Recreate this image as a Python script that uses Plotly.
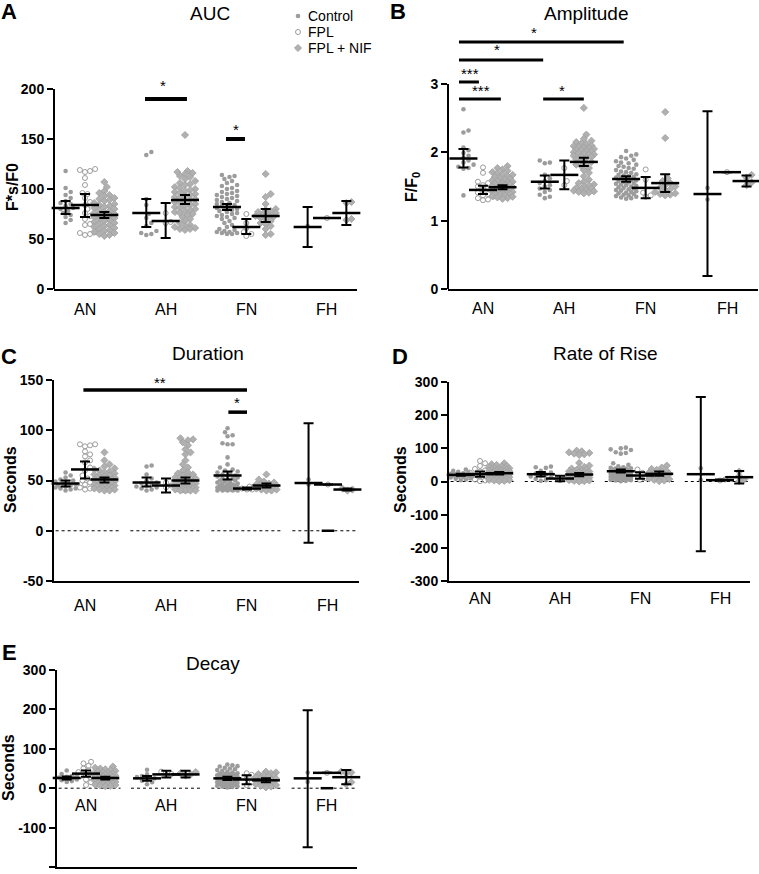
import plotly.graph_objects as go

W, H = 759, 874
GROUPS = ["AN", "AH", "FN", "FH"]
SERIES = ["Control", "FPL", "FPL + NIF"]

# ---------------- A: AUC ----------------
auc_ctrl = [
    [118, 101, 97, 94, 91, 88, 86, 85, 83, 81, 80, 78, 76, 74, 72, 69, 66],
    [137, 134, 90, 84, 75, 71, 66, 63, 58, 56, 55, 54],
    [114, 113, 112, 110, 108, 106, 104, 103, 101, 100, 98, 97, 96, 95, 94, 93, 92, 91, 90, 89,
     88, 87, 86, 85, 84, 84, 83, 82, 81, 80, 80, 79, 78, 77, 76, 75, 74, 73, 72, 71, 70, 68,
     66, 64, 62, 60, 59, 58, 57, 57, 56, 56, 55, 55],
    [63],
]
auc_fpl = [
    [120, 119, 118, 117, 111, 104, 96, 95, 91, 87, 84, 80, 76, 73, 70, 65, 64, 57, 56, 55, 54],
    [76, 67, 66],
    [75, 66, 61, 57, 55, 53],
    [71],
]
auc_nif = [
    [107, 102, 98, 96, 94, 93, 91, 90, 89, 88, 86, 85, 84, 83, 82, 81, 80, 79, 78, 77, 76, 75,
     75, 74, 73, 72, 71, 70, 69, 68, 67, 66, 65, 64, 63, 62, 61, 60, 59, 58, 57, 56, 55, 54, 53],
    [154, 118, 117, 116, 115, 113, 112, 110, 108, 106, 105, 104, 102, 101, 100, 99, 98, 97, 96,
     95, 94, 93, 92, 91, 90, 89, 88, 87, 86, 85, 84, 83, 82, 81, 80, 79, 78, 77, 76, 75, 74, 72,
     70, 68, 66, 64, 63, 62, 61, 60, 60, 59],
    [115, 95, 92, 85, 80, 79, 78, 77, 76, 75, 74, 73, 72, 71, 70, 68, 66, 65, 63, 60, 55, 54],
    [87, 86, 70, 69],
]
auc_mean = [[81, 76, 82, 62], [84, 68, 62, 71], [74, 89, 73, 76]]
auc_lo = [[75, 62, 79, 42], [72, 51, 55, 71], [71, 85, 67, 64]]
auc_hi = [[88, 90, 85, 82], [95, 86, 70, 71], [77, 94, 80, 88]]

# ---------------- B: Amplitude ----------------
amp_ctrl = [
    [2.63, 2.32, 2.29, 2.07, 2.03, 1.99, 1.95, 1.92, 1.88, 1.85, 1.82, 1.79, 1.77, 1.76, 1.37],
    [1.88, 1.85, 1.84, 1.67, 1.62, 1.58, 1.55, 1.52, 1.5, 1.47, 1.45, 1.42, 1.38, 1.35, 1.33],
    [2.02, 1.97, 1.95, 1.93, 1.91, 1.89, 1.87, 1.85, 1.84, 1.82, 1.8, 1.79, 1.77, 1.76, 1.74,
     1.72, 1.71, 1.7, 1.68, 1.67, 1.66, 1.65, 1.64, 1.63, 1.62, 1.61, 1.6, 1.59, 1.58, 1.57,
     1.56, 1.55, 1.54, 1.53, 1.52, 1.51, 1.5, 1.49, 1.48, 1.47, 1.46, 1.45, 1.44, 1.43, 1.42,
     1.41, 1.4, 1.39, 1.38, 1.37, 1.36, 1.35, 1.34, 1.33, 1.32],
    [1.48, 1.31],
]
amp_fpl = [
    [1.78, 1.7, 1.57, 1.55, 1.52, 1.5, 1.48, 1.45, 1.43, 1.41, 1.39, 1.37, 1.35, 1.33, 1.31, 1.3],
    [1.77, 1.58, 1.52],
    [1.75, 1.6, 1.41, 1.37, 1.35],
    [1.71],
]
amp_nif = [
    [1.8, 1.77, 1.75, 1.73, 1.71, 1.7, 1.68, 1.67, 1.65, 1.64, 1.62, 1.61, 1.6, 1.59, 1.58,
     1.57, 1.56, 1.55, 1.54, 1.53, 1.52, 1.51, 1.5, 1.49, 1.48, 1.47, 1.46, 1.45, 1.45, 1.44,
     1.43, 1.42, 1.41, 1.4, 1.4, 1.39, 1.38, 1.37, 1.36, 1.35, 1.34, 1.33, 1.32],
    [2.65, 2.26, 2.2, 2.17, 2.15, 2.13, 2.12, 2.1, 2.09, 2.08, 2.07, 2.06, 2.05, 2.04, 2.03,
     2.02, 2.01, 2.0, 1.99, 1.98, 1.97, 1.96, 1.95, 1.94, 1.93, 1.92, 1.9, 1.88, 1.86, 1.84,
     1.82, 1.8, 1.77, 1.74, 1.7, 1.65, 1.6, 1.57, 1.55, 1.53, 1.52, 1.5, 1.48, 1.47, 1.46,
     1.45, 1.44, 1.43, 1.42, 1.41, 1.4],
    [2.59, 2.21, 1.62, 1.58, 1.55, 1.52, 1.5, 1.48, 1.46, 1.44, 1.42, 1.4, 1.39, 1.38, 1.37],
    [1.67, 1.63, 1.56, 1.52],
]
amp_mean = [[1.91, 1.57, 1.61, 1.39], [1.45, 1.67, 1.48, 1.71], [1.49, 1.86, 1.55, 1.58]]
amp_lo = [[1.78, 1.47, 1.57, 0.19], [1.39, 1.46, 1.33, 1.71], [1.46, 1.80, 1.42, 1.50]]
amp_hi = [[2.05, 1.66, 1.65, 2.60], [1.51, 1.88, 1.64, 1.71], [1.52, 1.92, 1.68, 1.66]]

# ---------------- C: Duration ----------------
dur_ctrl = [
    [58, 55, 53, 51, 50, 49, 48, 47, 46, 45, 45, 44, 43, 42, 42, 41, 40],
    [65, 64, 56, 52, 50, 48, 47, 46, 45, 44, 43, 42, 41, 40],
    [102, 98, 95, 94, 87, 86, 86, 73, 66, 63, 61, 60, 59, 58, 57, 56, 55, 55, 54, 53, 52, 52,
     51, 50, 50, 49, 48, 48, 47, 47, 46, 46, 45, 45, 44, 44, 43, 43, 43, 42, 42, 42, 41, 41,
     41, 40, 40, 40, 40, 40],
    [51, 46],
]
dur_fpl = [
    [86, 86, 85, 84, 79, 76, 74, 70, 68, 63, 60, 55, 52, 50, 48, 46, 45, 43, 42, 41],
    [48, 45, 43],
    [44, 43, 42, 42, 41, 41],
    [46],
]
dur_nif = [
    [78, 70, 66, 64, 62, 61, 60, 59, 58, 57, 56, 55, 55, 54, 53, 53, 52, 52, 51, 51, 50, 50,
     49, 49, 48, 48, 47, 47, 46, 46, 45, 45, 44, 44, 43, 43, 42, 42, 41, 41, 40, 40],
    [92, 91, 90, 88, 85, 81, 78, 76, 70, 66, 63, 60, 58, 57, 56, 55, 54, 53, 52, 51, 50, 50,
     49, 49, 48, 48, 47, 47, 46, 46, 45, 45, 45, 44, 44, 44, 43, 43, 43, 42, 42, 42, 41, 41,
     41, 40, 40, 40, 40],
    [56, 51, 49, 48, 47, 46, 46, 45, 45, 44, 44, 43, 43, 42, 42, 41, 41, 40, 40],
    [42, 41, 40],
]
dur_mean = [[47, 48, 55, 47.5], [61, 45, 42, 46], [51, 50, 45, 41]]
dur_lo = [[44, 44, 51, -12], [52, 38, 41, 46], [48, 47, 43, 40]]
dur_hi = [[50, 53, 59, 107], [69, 52, 43, 46], [53, 53, 47, 42]]
dur_fpl_zero = [None, None, None, 0]

# ---------------- D: Rate of Rise ----------------
ror_ctrl = [
    [36, 32, 29, 27, 25, 23, 22, 21, 20, 19, 18, 17, 15, 14, 12, 10, 8, 6, 4],
    [45, 43, 41, 32, 27, 24, 21, 18, 15, 12, 8, 4, 2],
    [102, 100, 97, 95, 88, 86, 84, 55, 50, 46, 43, 41, 40, 39, 38, 37, 36, 35, 34, 33, 32, 31,
     30, 29, 28, 27, 26, 25, 24, 23, 22, 21, 20, 19, 18, 17, 16, 15, 14, 13, 12, 11, 10, 9, 8,
     7, 6, 5, 4, 3, 2, 1],
    [40, 4],
]
ror_fpl = [
    [62, 55, 47, 38, 33, 30, 27, 24, 21, 18, 15, 12, 9, 6, 3, 1],
    [13, 8, 4],
    [36, 26, 17, 10, 5],
    [6, 3],
]
ror_nif = [
    [55, 52, 50, 47, 45, 43, 41, 40, 38, 37, 36, 35, 34, 33, 32, 31, 30, 29, 28, 27, 26, 25,
     24, 23, 22, 21, 20, 19, 18, 17, 16, 15, 14, 13, 12, 11, 10, 9, 8, 7, 6, 5, 4, 3, 2, 1],
    [93, 91, 88, 86, 84, 82, 80, 56, 48, 44, 41, 39, 37, 35, 33, 31, 30, 29, 28, 27, 26, 25,
     24, 23, 22, 21, 20, 19, 18, 17, 16, 15, 14, 13, 12, 11, 10, 9, 8, 7, 6, 5, 4, 3, 2, 1, 0],
    [48, 42, 38, 35, 32, 29, 27, 25, 23, 21, 19, 17, 15, 13, 11, 9, 7, 5, 3, 1],
    [30, 16, 6, 1],
]
ror_mean = [[20, 22, 31, 22], [22, 9, 18, 4], [25, 21, 23, 13]]
ror_lo = [[17, 15, 27, -210], [14, 1, 8, 2], [21, 16, 17, -6]]
ror_hi = [[23, 29, 36, 255], [30, 17, 28, 6], [29, 26, 30, 32]]

# ---------------- E: Decay ----------------
dec_ctrl = [
    [45, 40, 36, 33, 31, 29, 27, 26, 25, 24, 23, 22, 20, 18, 16],
    [47, 35, 31, 28, 25, 22, 19, 15, 10],
    [60, 58, 56, 55, 52, 50, 48, 46, 44, 42, 40, 38, 37, 36, 35, 34, 33, 32, 31, 30, 29, 28,
     27, 26, 25, 24, 23, 22, 21, 20, 19, 18, 17, 16, 15, 14, 13, 12, 11, 10, 9, 8, 7, 6, 5,
     4, 3, 2],
    [40, 16],
]
dec_fpl = [
    [67, 63, 57, 50, 45, 41, 38, 35, 31, 27, 22, 15, 8],
    [42, 36, 33],
    [38, 34, 25, 15, 8],
    [39],
]
dec_nif = [
    [55, 52, 50, 48, 46, 44, 42, 40, 38, 37, 36, 35, 34, 33, 32, 31, 30, 29, 28, 27, 26, 25,
     24, 23, 22, 21, 20, 19, 18, 17, 16, 15, 14, 13, 12, 11, 10, 9, 8, 7, 6, 5],
    [41, 38, 35, 32],
    [42, 40, 38, 36, 34, 32, 30, 28, 26, 24, 22, 20, 18, 16, 14, 12, 10, 8, 6, 4, 2],
    [42, 40, 38, 15, 10],
]
dec_mean = [[26, 25, 25, 25], [37, 35, 22, 39], [26, 35, 20, 28]]
dec_lo = [[22, 19, 21, -150], [29, 27, 10, 39], [22, 27, 15, 10]]
dec_hi = [[30, 31, 29, 198], [45, 44, 33, 39], [29, 44, 25, 46]]
dec_fpl_zero = [None, None, None, 0]

# significance brackets: (x0, x1, y, label, label_x, label_y)
sig_auc = [(0.744, 1.264, 190, "*", 0.967, 203), (1.748, 1.983, 150, "*", 1.868, 160)]
sig_amp = [(-0.295, 1.73, 3.615, "*", 0.63, 3.76),
           (-0.295, 0.74, 3.35, "*", 0.17, 3.50),
           (-0.295, -0.05, 3.03, "***", -0.16, 3.16),
           (-0.295, 0.22, 2.78, "***", -0.02, 2.91),
           (0.74, 1.24, 2.78, "*", 0.97, 2.91)]
sig_dur = [(-0.02, 2.0, 140, "**", 0.93, 148), (1.77, 2.0, 118, "*", 1.88, 128)]

# ---------------- layout of panels (pixels) ----------------
PANELS = [
    dict(n="", letter="A", title="AUC", ytitle="F*s/F0",
         pts=(auc_ctrl, auc_fpl, auc_nif), mean=auc_mean, lo=auc_lo, hi=auc_hi,
         xpx=(54, 357), ypx=(79, 289), xr=(-0.384, 3.372), yr=(0, 210),
         tv=[0, 50, 100, 150, 200], axtop=200, sig=sig_auc, sigw=4, zero=None, dots=False,
         letter_xy=(9, 12), title_xy=(210, 14), ytitle_xy=(12, 187), lab_y=309, lab_zero=False),
    dict(n="2", letter="B", title="Amplitude", ytitle="F/F<sub>0</sub>",
         pts=(amp_ctrl, amp_fpl, amp_nif), mean=amp_mean, lo=amp_lo, hi=amp_hi,
         xpx=(448, 758), ypx=(25, 289), xr=(-0.430, 3.381), yr=(0, 3.864),
         tv=[0, 1, 2, 3], axtop=3, sig=sig_amp, sigw=3, zero=None, dots=False,
         letter_xy=(398, 12), title_xy=(586, 14), ytitle_xy=(412, 187), lab_y=308, lab_zero=False),
    dict(n="3", letter="C", title="Duration", ytitle="Seconds",
         pts=(dur_ctrl, dur_fpl, dur_nif), mean=dur_mean, lo=dur_lo, hi=dur_hi,
         xpx=(54, 359), ypx=(380, 581), xr=(-0.383, 3.383), yr=(-50, 150),
         tv=[-50, 0, 50, 100, 150], axtop=None, sig=sig_dur, sigw=3.5, zero=dur_fpl_zero, dots=True,
         letter_xy=(9, 356), title_xy=(208, 353), ytitle_xy=(10, 480), lab_y=605, lab_zero=False),
    dict(n="4", letter="D", title="Rate of Rise", ytitle="Seconds",
         pts=(ror_ctrl, ror_fpl, ror_nif), mean=ror_mean, lo=ror_lo, hi=ror_hi,
         xpx=(449, 750), ypx=(382, 581), xr=(-0.3875, 3.375), yr=(-300, 300),
         tv=[-300, -200, -100, 0, 100, 200, 300], axtop=None, sig=[], sigw=3, zero=None, dots=True,
         letter_xy=(400, 356), title_xy=(605, 353), ytitle_xy=(400, 480), lab_y=598, lab_zero=False),
    dict(n="5", letter="E", title="Decay", ytitle="Seconds",
         pts=(dec_ctrl, dec_fpl, dec_nif), mean=dec_mean, lo=dec_lo, hi=dec_hi,
         xpx=(57, 357), ypx=(670, 867), xr=(-0.361, 3.374), yr=(-200, 300),
         tv=[-200, -100, 0, 100, 200, 300], axtop=None, sig=[], sigw=3, zero=dec_fpl_zero, dots=True,
         letter_xy=(9, 652), title_xy=(213, 663), ytitle_xy=(8, 768), lab_y=806, lab_zero=True),
]

SUB_OFF = [-0.24, 0.0, 0.24]
GRAY = "#9c9c9c"
STYLE = [
    dict(symbol="circle", size=4.6, color=GRAY, line=dict(width=0, color=GRAY)),
    dict(symbol="circle-open", size=5, color=GRAY, line=dict(width=1, color=GRAY)),
    dict(symbol="diamond", size=5.5, color="#b0b0b0", line=dict(width=0.8, color="#a0a0a0")),
]
FONT = "Liberation Sans, Arial, sans-serif"


def swarm(vals, ppu_y, ppu_x, dia=4.6, maxw=10.5):
    step = dia * 0.55
    offs = [0.0]
    k = 1
    while k * step <= maxw:
        offs += [k * step, -k * step]
        k += 1
    placed = []
    res = [0.0] * len(vals)
    for i in sorted(range(len(vals)), key=lambda j: vals[j]):
        py = vals[i] * ppu_y
        best, bestd = 0.0, -1.0
        for o in offs:
            d = min([((o - qx) ** 2 + (py - qy) ** 2) ** 0.5 for qx, qy in placed] or [1e9])
            if d >= dia:
                best = o
                break
            if d > bestd:
                bestd, best = d, o
        placed.append((best, py))
        res[i] = best / ppu_x
    return res


def px2paper_x(px):
    return px / W


def px2paper_y(py):
    return 1 - py / H


fig = go.Figure()
shapes, annos = [], []
layout = {}

for P in PANELS:
    xa, ya = "x" + P["n"], "y" + P["n"]
    ppu_x = (P["xpx"][1] - P["xpx"][0]) / (P["xr"][1] - P["xr"][0])
    ppu_y = (P["ypx"][1] - P["ypx"][0]) / (P["yr"][1] - P["yr"][0])
    # dotted zero reference lines per group
    if P["dots"]:
        for g in range(4):
            shapes.append(dict(type="line", xref=xa, yref=ya,
                               x0=max(g - 0.44, P["xr"][0] + 0.02), x1=min(g + 0.43, P["xr"][1] - 0.01),
                               y0=0, y1=0, line=dict(color="black", width=1, dash="dot"), layer="below"))
    # points
    for s in range(3):
        xs, ys = [], []
        for g in range(4):
            vals = P["pts"][s][g]
            offs = swarm(vals, ppu_y, ppu_x)
            xs += [g + SUB_OFF[s] + o for o in offs]
            ys += vals
        fig.add_trace(go.Scatter(x=xs, y=ys, xaxis=xa, yaxis=ya, mode="markers",
                                 marker=STYLE[s], showlegend=False, hoverinfo="skip",
                                 cliponaxis=False))
    # mean + SEM
    for s in range(3):
        m, lo, hi = P["mean"][s], P["lo"][s], P["hi"][s]
        fig.add_trace(go.Scatter(
            x=[g + SUB_OFF[s] for g in range(4)], y=m, xaxis=xa, yaxis=ya, mode="markers",
            marker=dict(symbol="line-ew", size=20, color="black", line=dict(width=2.5, color="black")),
            error_y=dict(type="data", symmetric=False, array=[h - v for h, v in zip(hi, m)],
                         arrayminus=[v - l for v, l in zip(m, lo)], width=5, thickness=2, color="black"),
            showlegend=False, hoverinfo="skip", cliponaxis=False))
    if P["zero"] is not None:
        zx = [g + SUB_OFF[1] for g, v in enumerate(P["zero"]) if v is not None]
        zy = [v for v in P["zero"] if v is not None]
        fig.add_trace(go.Scatter(x=zx, y=zy, xaxis=xa, yaxis=ya, mode="markers",
                                 marker=dict(symbol="line-ew", size=9, color="black",
                                             line=dict(width=2.5, color="black")),
                                 showlegend=False, hoverinfo="skip", cliponaxis=False))
    # significance
    for (x0, x1, y, lab, lx, ly) in P["sig"]:
        shapes.append(dict(type="line", xref=xa, yref=ya, x0=x0, x1=x1, y0=y, y1=y,
                           line=dict(color="black", width=P["sigw"])))
        annos.append(dict(x=lx, y=ly, xref=xa, yref=ya, text=lab, showarrow=False,
                          font=dict(family=FONT, size=15, color="black"), yanchor="middle"))
    # axes
    tt = [str(v) for v in P["tv"]]
    layout["xaxis" + P["n"]] = dict(domain=[px2paper_x(P["xpx"][0]), px2paper_x(P["xpx"][1])],
                                    range=list(P["xr"]), anchor=ya, showline=True, linewidth=2,
                                    linecolor="black", ticks="", showticklabels=False,
                                    showgrid=False, zeroline=False, fixedrange=True,
                                    automargin=False)
    layout["yaxis" + P["n"]] = dict(domain=[px2paper_y(P["ypx"][1]), px2paper_y(P["ypx"][0])],
                                    range=list(P["yr"]), anchor=xa,
                                    showline=P["axtop"] is None, linewidth=2, linecolor="black",
                                    ticks="outside", ticklen=6, tickwidth=2, tickcolor="black",
                                    tickvals=P["tv"], ticktext=tt,
                                    tickfont=dict(family=FONT, size=14, color="black", weight="bold"),
                                    showgrid=False, zeroline=False, fixedrange=True,
                                    automargin=False)
    if P["axtop"] is not None:
        shapes.append(dict(type="line", xref=xa + " domain", yref=ya, x0=0, x1=0,
                           y0=P["yr"][0], y1=P["axtop"], line=dict(color="black", width=2)))
    # category labels
    for g, name in enumerate(GROUPS):
        if P["lab_zero"]:
            annos.append(dict(x=g, y=0, xref=xa, yref=ya, yshift=-17, text=name, showarrow=False,
                              font=dict(family=FONT, size=16, color="black"), yanchor="middle"))
        else:
            annos.append(dict(x=g, y=px2paper_y(P["lab_y"]), xref=xa, yref="paper", text=name,
                              showarrow=False, font=dict(family=FONT, size=16, color="black"),
                              yanchor="middle"))
    # panel letter, title, y-title
    annos.append(dict(x=px2paper_x(P["letter_xy"][0]), y=px2paper_y(P["letter_xy"][1]),
                      xref="paper", yref="paper", text="<b>%s</b>" % P["letter"], showarrow=False,
                      font=dict(family=FONT, size=22, color="black"), xanchor="center", yanchor="middle"))
    annos.append(dict(x=px2paper_x(P["title_xy"][0]), y=px2paper_y(P["title_xy"][1]),
                      xref="paper", yref="paper", text=P["title"], showarrow=False,
                      font=dict(family=FONT, size=19, color="black"), xanchor="center", yanchor="middle"))
    annos.append(dict(x=px2paper_x(P["ytitle_xy"][0]), y=px2paper_y(P["ytitle_xy"][1]),
                      xref="paper", yref="paper", text="<b>%s</b>" % P["ytitle"], showarrow=False,
                      textangle=-90, font=dict(family=FONT, size=16, color="black"),
                      xanchor="center", yanchor="middle"))

# legend (manual, in an overlay pixel-space axis)
LEG_X, LEG_Y = 298, [16, 32, 48]
layout["xaxis6"] = dict(domain=[0, 1], range=[0, W], visible=False, fixedrange=True, anchor="y6")
layout["yaxis6"] = dict(domain=[0, 1], range=[H, 0], visible=False, fixedrange=True, anchor="x6")
for s in range(3):
    fig.add_trace(go.Scatter(x=[LEG_X], y=[LEG_Y[s]], xaxis="x6", yaxis="y6", mode="markers",
                             marker=STYLE[s], showlegend=False, hoverinfo="skip"))
    annos.append(dict(x=px2paper_x(LEG_X + 8), y=px2paper_y(LEG_Y[s]), xref="paper", yref="paper",
                      text=SERIES[s], showarrow=False, xanchor="left", yanchor="middle",
                      font=dict(family=FONT, size=14, color="black")))

fig.update_layout(width=W, height=H, margin=dict(l=0, r=0, t=0, b=0, autoexpand=False),
                  paper_bgcolor="white", plot_bgcolor="rgba(0,0,0,0)", showlegend=False,
                  shapes=shapes, annotations=annos, **layout)
fig.write_html("out.html", config={"displayModeBar": False},
               post_script="document.body.style.margin='0px';")
